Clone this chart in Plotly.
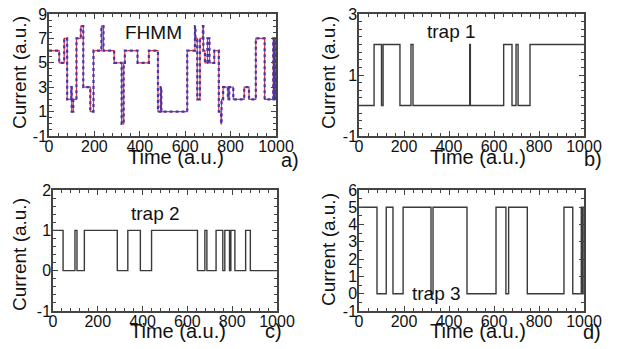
import plotly.graph_objects as go

# ---- data: step traces (transition times and levels) ----
trap1_times = [0, 67, 100, 107, 182, 231, 240, 492, 495, 643, 680, 698, 707, 760, 1000]
trap1_levels = [0, 2, 0, 2, 0, 2, 0, 2, 0, 2, 0, 2, 0, 2]

trap2_times = [0, 45, 98, 107, 140, 287, 334, 390, 440, 645, 678, 687, 728, 758, 767, 788, 794, 812, 860, 881, 1000]
trap2_levels = [1, 0, 1, 0, 1, 0, 1, 0, 1, 0, 1, 0, 1, 0, 1, 0, 1, 0, 1, 0]

trap3_times = [0, 80, 121, 151, 196, 320, 329, 480, 609, 653, 665, 748, 911, 950, 988, 990, 992, 994, 996, 1000]
trap3_levels = [5, 0, 5, 0, 5, 0, 5, 0, 5, 0, 5, 0, 5, 0, 5, 0, 5, 0, 5]

x_ticks = [0, 200, 400, 600, 800, 1000]
ya_ticks = [-1, 1, 3, 5, 7, 9]
yb_ticks = [-1, 1, 3]
yc_ticks = [-1, 0, 1, 2]
yd_ticks = [-1, 0, 1, 2, 3, 4, 5, 6]


def level_at(times, levels, t):
    for i in range(len(levels)):
        if times[i] <= t < times[i + 1]:
            return levels[i]
    return levels[-1]


# FHMM signal = sum of the three traps
all_times = sorted(set(trap1_times) | set(trap2_times) | set(trap3_times))
fhmm_levels = [level_at(trap1_times, trap1_levels, t) + level_at(trap2_times, trap2_levels, t)
               + level_at(trap3_times, trap3_levels, t) for t in all_times[:-1]]

fig = go.Figure()
LINE = '#3a3a3a'


def step(times, levels, xa, ya, color=LINE, width=1.4, dash='solid'):
    return go.Scatter(x=times, y=list(levels) + [levels[-1]], mode='lines', line_shape='hv',
                      line=dict(color=color, width=width, dash=dash), xaxis=xa, yaxis=ya,
                      showlegend=False, hoverinfo='skip')


# panel a: fit (red) under data (blue dots)
fig.add_trace(step(all_times, fhmm_levels, 'x', 'y', color='#e0304a', width=1.2))
fig.add_trace(step(all_times, fhmm_levels, 'x', 'y', color='#4636a8', width=2.2, dash='dot'))
fig.add_trace(step(trap1_times, trap1_levels, 'x2', 'y2'))
fig.add_trace(step(trap2_times, trap2_levels, 'x3', 'y3'))
fig.add_trace(step(trap3_times, trap3_levels, 'x4', 'y4'))

W, H = 619, 349
boxes = {
    '': (49, 276, 14, 136),
    '2': (359, 584, 14, 136),
    '3': (53, 277, 190, 311),
    '4': (359, 584, 190, 311),
}
yr = {'': ([-1, 9], ya_ticks, 0.5), '2': ([-1, 3], yb_ticks, 0.25), '3': ([-1, 2], yc_ticks, 0.2),
      '4': ([-1, 6], yd_ticks, 0.5)}
tickfont = dict(family='Liberation Sans, Arial, sans-serif', size=16, color='#111')
axcommon = dict(showline=True, linecolor='#444', linewidth=1.5, mirror='ticks', ticks='inside',
                ticklen=5, tickcolor='#444', showgrid=False, zeroline=False, tickfont=tickfont,
                automargin=False)

layout = dict(width=W, height=H, margin=dict(l=0, r=0, t=0, b=0), plot_bgcolor='white',
              paper_bgcolor='white')
for k, (x0, x1, y0, y1) in boxes.items():
    rng, yt, mdt = yr[k]
    layout['xaxis' + k] = dict(domain=[x0 / W, x1 / W], anchor='y' + k, range=[0, 1000],
                               tickvals=x_ticks, ticktext=[str(v) for v in x_ticks],
                               minor=dict(ticks='inside', ticklen=3, dtick=40, tick0=0,
                                          tickcolor='#444'),
                               ticklabelstandoff=-5, **axcommon)
    layout['yaxis' + k] = dict(domain=[1 - y1 / H, 1 - y0 / H], anchor='x' + k, range=rng,
                               tickvals=yt, ticktext=[str(v) for v in yt],
                               minor=dict(ticks='inside', ticklen=3, dtick=mdt, tick0=-1,
                                          tickcolor='#444'),
                               ticklabelstandoff=-3, **axcommon)
fig.update_layout(**layout)

tfont = dict(family='Liberation Sans, Arial, sans-serif', size=20, color='#111')
vfont = dict(family='Liberation Sans, Arial, sans-serif', size=19, color='#111')
ann = []
# axis titles
for cx, cy in [(176, 157), (478, 157), (178, 331), (478, 331)]:
    ann.append(dict(text='Time (a.u.)', x=cx / W, y=1 - cy / H, xref='paper', yref='paper',
                    showarrow=False, font=tfont, xanchor='center', yanchor='middle'))
for cx, cy in [(19, 73), (328, 73), (19, 255), (328, 250)]:
    ann.append(dict(text='Current (a.u.)', x=cx / W, y=1 - cy / H, xref='paper', yref='paper',
                    showarrow=False, font=vfont, textangle=-90, xanchor='center', yanchor='middle'))
# labels inside
for txt, cx, cy in [('FHMM', 153, 32), ('trap 1', 451, 31), ('trap 2', 155, 213), ('trap 3', 436, 293)]:
    ann.append(dict(text=txt, x=cx / W, y=1 - cy / H, xref='paper', yref='paper',
                    showarrow=False, font=dict(family='Liberation Sans, Arial, sans-serif', size=19,
                                               color='#111'), xanchor='center', yanchor='middle'))
for txt, cx, cy in [('a)', 290, 160), ('b)', 593, 159), ('c)', 273, 331), ('d)', 592, 332)]:
    ann.append(dict(text=txt, x=cx / W, y=1 - cy / H, xref='paper', yref='paper',
                    showarrow=False, font=tfont, xanchor='center', yanchor='middle'))
fig.update_layout(annotations=ann)

fig.write_html('out.html', config={'displayModeBar': False},
               post_script="document.body.style.margin='0';document.body.style.padding='0';")
